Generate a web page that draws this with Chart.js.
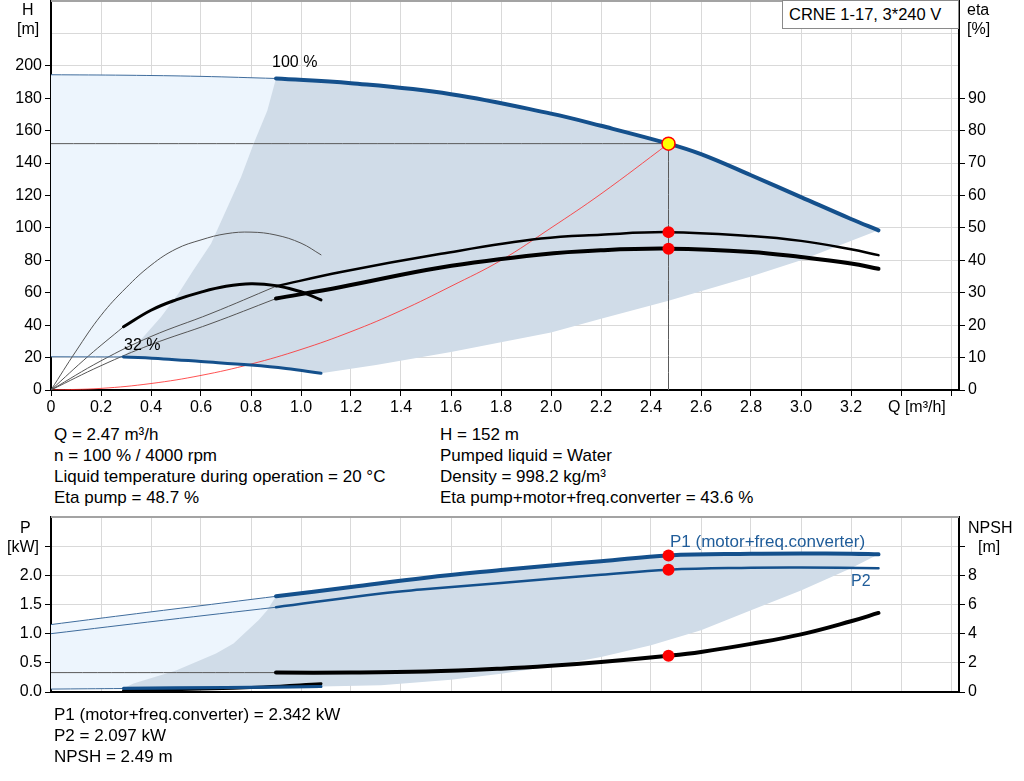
<!DOCTYPE html>
<html>
<head>
<meta charset="utf-8">
<script src="https://cdn.jsdelivr.net/npm/chart.js@4"></script>
<style>
  body { margin: 0; background: #fff; width: 1024px; height: 781px; position: relative; overflow: hidden;
         font-family: 'Liberation Sans', Arial, sans-serif; color: #000; }
  canvas { position: absolute; left: 0; }
  .t { position: absolute; white-space: nowrap; font-size: 16px; line-height: 16px; }
  .i { position: absolute; white-space: nowrap; font-size: 17px; line-height: 21.3px; }
  .blue { color: #1f5c99; }
  #box { position: absolute; left: 782px; top: 0; width: 177px; height: 29px; box-sizing: border-box;
         border: 1px solid #8a8a8a; background: #fff; font-size: 16.5px; line-height: 27px; padding-left: 6px; white-space: nowrap; }
</style>
</head>
<body>
<canvas id="top" width="1024" height="420" style="top:0"></canvas>
<canvas id="bot" width="1024" height="200" style="top:510px"></canvas>

<div id="box">CRNE 1-17, 3*240 V</div>
<div class="t" style="left:22px;top:2px">H</div>
<div class="t" style="left:17px;top:21px">[m]</div>
<div class="t" style="left:967px;top:2px">eta</div>
<div class="t" style="left:967px;top:21px">[%]</div>
<div class="t" style="left:888px;top:399px">Q [m³/h]</div>
<div class="t" style="left:272px;top:54px">100 %</div>
<div class="t" style="left:124px;top:337px">32 %</div>

<div class="i" style="left:54px;top:423.5px">Q = 2.47 m³/h<br>n = 100 % / 4000 rpm<br>Liquid temperature during operation = 20 °C<br>Eta pump = 48.7 %</div>
<div class="i" style="left:440px;top:423.5px">H = 152 m<br>Pumped liquid = Water<br>Density = 998.2 kg/m³<br>Eta pump+motor+freq.converter = 43.6 %</div>

<div class="t" style="left:20px;top:520px">P</div>
<div class="t" style="left:7px;top:538.5px">[kW]</div>
<div class="t" style="left:968px;top:520px">NPSH</div>
<div class="t" style="left:978px;top:538.5px">[m]</div>
<div class="i blue" style="left:670px;top:530.5px">P1 (motor+freq.converter)</div>
<div class="t blue" style="left:851px;top:573px">P2</div>

<div class="i" style="left:54px;top:703.5px">P1 (motor+freq.converter) = 2.342 kW<br>P2 = 2.097 kW<br>NPSH = 2.49 m</div>

<script>
// ---- top chart: Q [m3/h], H [m], eta [%]
const qH100Ext = [0, 0.3, 0.6, 0.9];
const h100Ext = [194.5, 194.2, 193.5, 192.2];
const qH100 = [0.9, 1.2, 1.6, 2.0, 2.2, 2.47, 2.6, 2.8, 3.0, 3.2, 3.31];
const h100 = [192.2, 189.3, 182.5, 170.5, 163, 152, 145.5, 132.5, 119, 105.5, 98.5];
const qH32Ext = [0, 0.29];
const h32Ext = [20.5, 20.4];
const qH32 = [0.29, 0.45, 0.6, 0.8, 0.94, 1.08];
const h32 = [20.4, 19.2, 17.6, 15.4, 13.3, 10.3];
const qAreaLeft = [0.29, 0.37, 0.44, 0.51, 0.57, 0.64, 0.70, 0.76, 0.81, 0.865];
const hAreaLeft = [20.4, 32.8, 45, 59.5, 74, 90.3, 110.8, 131.3, 151.8, 172.3];
const qAreaLow = [1.08, 1.3, 1.6, 2.0, 2.2, 2.47, 2.79, 3.0, 3.31];
const hAreaLow = [10.3, 15.5, 23.4, 35.5, 44, 55, 69.5, 80, 98.5];
const qSystem = [0, 0.2, 0.4, 0.6, 0.8, 1.0, 1.2, 1.4, 1.6, 1.8, 2.0, 2.2, 2.47];
const hSystem = [0, 1, 4, 9, 16, 25, 36, 49, 64, 80, 100, 121, 152];

const qEta100 = [0.9, 1.16, 1.56, 1.96, 2.2, 2.47, 2.8, 3.0, 3.2, 3.31];
const etaPump100 = [32, 36.4, 42, 46.7, 47.9, 48.7, 47.5, 46, 43.4, 41.6];
const etaTotal100 = [28.2, 31.8, 37.8, 41.8, 43.1, 43.6, 42.6, 41, 39, 37.4];
const qEtaExt = [0, 0.2, 0.4, 0.64, 0.9];
const etaPumpExt = [0, 9, 16.5, 23.6, 32];
const etaTotalExt = [0, 7.5, 14, 20.5, 28.2];
const qEtaPumpMin = [0, 0.1, 0.2, 0.3, 0.4, 0.5, 0.6, 0.7, 0.8, 0.9, 1.0, 1.08];
const etaPumpMin = [0, 12, 23, 31.5, 38.5, 43.5, 46.3, 48.2, 48.7, 47.8, 45.3, 41.7];
const qEtaTotalMin = [0.29, 0.4, 0.5, 0.6, 0.7, 0.8, 0.9, 1.0, 1.08];
const etaTotalMin = [19.5, 24.6, 27.8, 30.2, 32, 32.8, 32.2, 30.3, 27.8];
const qEtaTotalMinExt = [0, 0.15, 0.29];
const etaTotalMinExt = [0, 10.5, 19.5];

const dutyQ = 2.47, dutyH = 152, dutyEtaPump = 48.7, dutyEtaTotal = 43.6;

// ---- bottom chart: P [kW], NPSH [m]
const qP1Ext = [0, 0.3, 0.6, 0.9];
const p1Ext = [1.156, 1.32, 1.48, 1.64];
const qP1 = [0.9, 1.2, 1.5, 1.8, 2.0, 2.2, 2.47, 2.8, 3.0, 3.2, 3.31];
const p1 = [1.64, 1.8, 1.96, 2.09, 2.17, 2.24, 2.342, 2.37, 2.375, 2.37, 2.36];
const qP2Ext = [0, 0.45, 0.9];
const p2Ext = [1.0, 1.23, 1.453];
const qP2 = [0.9, 1.32, 1.48, 1.8, 2.2, 2.47, 2.8, 3.0, 3.31];
const p2 = [1.453, 1.69, 1.756, 1.87, 2.01, 2.097, 2.13, 2.135, 2.12];
const qPMinExt = [0, 0.29];
const pMinExt = [0.05, 0.06];
const qPMin = [0.29, 0.7, 1.08];
const p1Min = [0.065, 0.078, 0.095];
const p2Min = [0.055, 0.068, 0.085];
const qPAreaLeft = [0.29, 0.33, 0.5, 0.66, 0.73, 0.83, 0.865];
const pAreaLeft = [0.065, 0.144, 0.37, 0.66, 0.83, 1.23, 1.40];
const qPAreaLow = [1.08, 1.32, 1.6, 1.8, 2.0, 2.2, 2.4, 2.6, 2.8, 3.0, 3.2, 3.31];
const pAreaLow = [0.095, 0.115, 0.21, 0.315, 0.44, 0.6, 0.8, 1.06, 1.4, 1.74, 2.12, 2.36];
const qNpshExt = [0, 0.9];
const npshExt = [1.33, 1.33];
const qNpsh = [0.9, 1.2, 1.5, 1.8, 2.0, 2.2, 2.47, 2.6, 2.8, 3.0, 3.2, 3.31];
const npsh = [1.33, 1.33, 1.4, 1.6, 1.8, 2.06, 2.49, 2.75, 3.3, 3.95, 4.85, 5.42];
const qNpshMin = [0.29, 0.6, 0.85, 1.08];
const npshMin = [0.1, 0.2, 0.35, 0.57];

const dutyP1 = 2.342, dutyP2 = 2.097, dutyNpsh = 2.49;

// ---- helpers
const FONT = "'Liberation Sans', Arial, sans-serif";
const BLUE = '#14508c';
const GRID = '#d9d9d9';
const NONE = 'rgba(0,0,0,0)';

const pts = (qs, vs) => qs.map((q, i) => ({ x: q, y: vs[i] }));

function line(data, color, width, axis, order) {
    return { data, borderColor: color, borderWidth: width, pointRadius: 0, fill: false,
             yAxisID: axis || 'y', order: order || 10, tension: 0.4,
             borderCapStyle: 'round' };
}
function area(data, color, order) {
    return { data, backgroundColor: color, borderColor: NONE, borderWidth: 0, pointRadius: 0,
             fill: 'shape', tension: 0, order };
}
function dots(data, axis, bg, border, r) {
    return { data, yAxisID: axis || 'y', showLine: false, pointRadius: r || 6, pointHoverRadius: 0,
             pointBackgroundColor: bg, pointBorderColor: border || bg, pointBorderWidth: border ? 1.5 : 0, order: 0 };
}

// grey frame line on top of the plot area
const frameTop = {
    id: 'frameTop',
    afterDraw(c) {
        const a = c.chartArea, ctx = c.ctx;
        ctx.save();
        ctx.strokeStyle = '#a3a3a3';
        ctx.lineWidth = 2;
        ctx.beginPath();
        ctx.moveTo(a.left, a.top);
        ctx.lineTo(a.right, a.top);
        ctx.stroke();
        ctx.restore();
    }
};

function axisY(min, max, step, lastLabel, lastTick, fmt, pos, width, onArea) {
    return {
        type: 'linear', position: pos, min, max,
        ticks: { stepSize: step, color: '#000', font: { family: FONT, size: 16 }, padding: 3,
                 callback: v => v > lastLabel + 1e-6 ? '' : fmt(v) },
        grid: { color: GRID, drawOnChartArea: onArea, tickLength: 6,
                tickColor: c => (c.tick && c.tick.value > lastTick + 1e-6) ? NONE : '#000' },
        border: { color: '#000', width: 2 },
        afterFit: s => { s.width = width; s.paddingTop = 0; s.paddingBottom = 0; }
    };
}

function axisX(showTicks, height) {
    return {
        type: 'linear', min: 0, max: 3.632,
        ticks: { display: showTicks, stepSize: 0.2, includeBounds: false, autoSkip: false, maxRotation: 0,
                 color: '#000', font: { family: FONT, size: 16 }, padding: 2,
                 callback: v => v > 3.3 ? '' : (v === 0 ? '0' : v.toFixed(1)) },
        grid: { color: GRID, tickColor: '#000', tickLength: showTicks ? 6 : 0, drawTicks: showTicks },
        border: { color: '#000', width: 2 },
        afterFit: s => { s.height = height; s.paddingLeft = 0; s.paddingRight = 0; }
    };
}

const common = {
    responsive: false, animation: false, devicePixelRatio: 1,
    plugins: { legend: { display: false }, tooltip: { enabled: false } },
    events: []
};

// ---- top chart
new Chart(document.getElementById('top'), {
    type: 'line',
    data: {
        datasets: [
            area([...pts(qH100Ext, h100Ext), ...pts(qH32, h32).reverse(), ...pts(qH32Ext, h32Ext).reverse()], '#edf5fd', 100),
            area([...pts(qAreaLeft, hAreaLeft), ...pts(qH100, h100), ...pts(qAreaLow, hAreaLow).reverse(), ...pts(qH32, h32).reverse()], '#d0dce8', 90),
            line([{ x: 0, y: dutyH }, { x: dutyQ, y: dutyH }], '#5a5a5a', 1, 'y', 60),
            line([{ x: dutyQ, y: dutyH }, { x: dutyQ, y: 0 }], '#5a5a5a', 1, 'y', 60),
            line(pts(qSystem, hSystem), 'rgba(255,40,40,0.8)', 1, 'y', 55),
            line(pts(qH100Ext, h100Ext), '#3f6c9c', 1, 'y', 50),
            line(pts(qH32Ext, h32Ext), '#3f6c9c', 1, 'y', 50),
            line(pts(qEtaExt, etaPumpExt), '#555', 1, 'y2', 50),
            line(pts(qEtaExt, etaTotalExt), '#555', 1, 'y2', 50),
            line(pts(qEtaTotalMinExt, etaTotalMinExt), '#555', 1, 'y2', 50),
            line(pts(qEtaPumpMin, etaPumpMin), '#555', 1, 'y2', 45),
            line(pts(qEtaTotalMin, etaTotalMin), '#000', 3, 'y2', 40),
            line(pts(qEta100, etaPump100), '#000', 2.5, 'y2', 30),
            line(pts(qEta100, etaTotal100), '#000', 4, 'y2', 30),
            line(pts(qH32, h32), BLUE, 3, 'y', 20),
            line(pts(qH100, h100), BLUE, 4, 'y', 20),
            dots([{ x: dutyQ, y: dutyEtaPump }, { x: dutyQ, y: dutyEtaTotal }], 'y2', '#ff0000'),
            dots([{ x: dutyQ, y: dutyH }], 'y', '#ffff00', '#ff0000', 6.5)
        ]
    },
    options: Object.assign({}, common, {
        layout: { autoPadding: false, padding: { top: 1, left: 0, right: 0, bottom: 0 } },
        scales: {
            x: axisX(true, 30),
            y: axisY(0, 240, 20, 200, 200, v => String(v), 'left', 51, true),
            y2: axisY(0, 120, 10, 90, 90, v => String(v), 'right', 65, false)
        }
    }),
    plugins: [frameTop]
});

// ---- bottom chart
new Chart(document.getElementById('bot'), {
    type: 'line',
    data: {
        datasets: [
            area([...pts(qP1Ext, p1Ext), ...pts(qPMin, p1Min).reverse(), ...pts(qPMinExt, pMinExt).reverse()], '#edf5fd', 100),
            area([...pts(qPAreaLeft, pAreaLeft), ...pts(qP1, p1), ...pts(qPAreaLow, pAreaLow).reverse(), ...pts(qPMin, p1Min).reverse()], '#d0dce8', 90),
            line(pts(qNpshExt, npshExt), '#5a5a5a', 1, 'y2', 50),
            line(pts(qP1Ext, p1Ext), '#3f6c9c', 1, 'y', 50),
            line(pts(qP2Ext, p2Ext), '#3f6c9c', 1, 'y', 50),
            line(pts(qPMinExt, pMinExt), '#3f6c9c', 1, 'y', 50),
            line(pts(qNpshMin, npshMin), '#000', 3, 'y2', 40),
            line(pts(qPMin, p2Min), BLUE, 2, 'y', 35),
            line(pts(qPMin, p1Min), BLUE, 3, 'y', 35),
            line(pts(qNpsh, npsh), '#000', 4, 'y2', 30),
            line(pts(qP2, p2), BLUE, 2.5, 'y', 20),
            line(pts(qP1, p1), BLUE, 4, 'y', 20),
            dots([{ x: dutyQ, y: dutyP1 }, { x: dutyQ, y: dutyP2 }], 'y', '#ff0000'),
            dots([{ x: dutyQ, y: dutyNpsh }], 'y2', '#ff0000')
        ]
    },
    options: Object.assign({}, common, {
        layout: { autoPadding: false, padding: { top: 7, left: 0, right: 0, bottom: 0 } },
        scales: {
            x: axisX(false, 18),
            y: axisY(0, 3, 0.5, 2.0, 2.5, v => v.toFixed(1), 'left', 51, true),
            y2: axisY(0, 12, 2, 8, 10, v => String(v), 'right', 65, false)
        }
    }),
    plugins: [frameTop]
});
</script>
</body>
</html>
